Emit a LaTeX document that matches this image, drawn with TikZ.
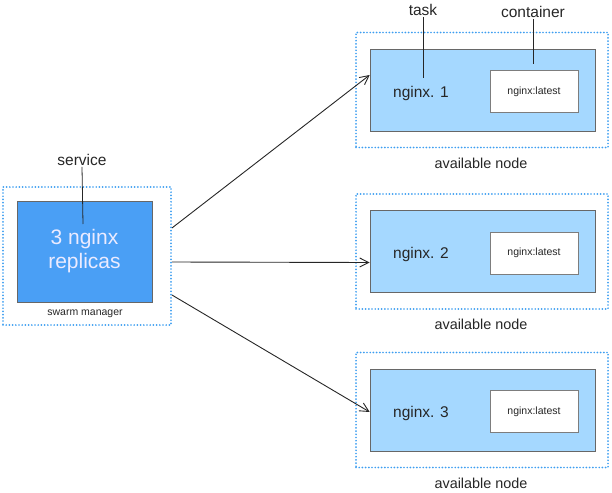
\documentclass[tikz,border=0pt]{standalone}
\usepackage{fontspec}
\setmainfont{Liberation Sans}
\usetikzlibrary{arrows.meta}
\definecolor{svcblue}{HTML}{4A9FF5}
\definecolor{taskblue}{HTML}{A5D8FF}
\definecolor{dotblue}{HTML}{3D9EF0}
\definecolor{ink}{HTML}{262626}
\begin{document}
\begin{tikzpicture}[x=1pt,y=-1pt,
  dotbox/.style={draw=dotblue,line width=1.9pt,dash pattern=on 0pt off 3.2pt,line cap=round,inner sep=0pt},
  taskbox/.style={draw=ink!70,fill=taskblue,line width=0.6pt,minimum width=225pt,minimum height=82pt,inner sep=0pt},
  ctrbox/.style={draw=ink!60,fill=white,line width=0.6pt,minimum width=88pt,minimum height=42pt,inner sep=0pt,font=\fontsize{10.5}{12}\selectfont,text=ink},
  lbl/.style={text=ink,font=\fontsize{15.5}{18}\selectfont,inner sep=1pt},
  flow/.style={draw=ink,line width=0.9pt,-{Straight Barb[length=9pt,width=9pt]}}]
\useasboundingbox (0,0) rectangle (612,492);

% swarm manager
\node[dotbox,minimum width=168pt,minimum height=138pt] (mgr) at (87,256) {};
\node[draw=ink!70,fill=svcblue,line width=0.6pt,minimum width=135pt,minimum height=101pt,
  text=blue!8,align=center,font=\fontsize{21}{24}\selectfont] (svc) at (84.5,251.5) {3 nginx\\replicas};
\node[text=ink,font=\fontsize{10.5}{12}\selectfont] (mgrlbl) at (85,314) {swarm manager};
\node[lbl] (svclbl) at (82,160) {service};
\coordinate (svcpt) at (83,224);
\draw[ink,line width=0.8pt] (svclbl.south) -- (svcpt);

% available nodes
\foreach \i/\y in {1/90,2/251.5,3/410}{
  \node[dotbox,minimum width=252pt,minimum height=115pt] (host\i) at (482,\y) {};
  \node[taskbox] (task\i) at (482.5,\y) {};
  \node[ctrbox] (ctr\i) at (534,\y+1.5) {nginx:latest};
  \node[lbl] (name\i) at (421,\y+3) {nginx. \i};
  \node[text=ink,font=\fontsize{14.4}{17}\selectfont] (avail\i) at (481,\y+73) {available node};
}

\node[lbl] (tasklbl) at (423,10) {task};
\node[lbl] (ctrlbl) at (533,12) {container};
\coordinate (taskpt) at (423,78);
\coordinate (ctrpt) at (533,64);
\draw[ink,line width=0.8pt] (tasklbl.south) -- (taskpt);
\draw[ink,line width=0.8pt] (ctrlbl.south) -- (ctrpt);

% replicas
\draw[flow] ([yshift=28pt]mgr.east) -- ([yshift=15pt]task1.west);
\draw[flow] ([yshift=-6pt]mgr.east) -- ([yshift=-11pt]task2.west);
\draw[flow] ([yshift=-39pt]mgr.east) -- ([yshift=-2pt]task3.west);
\end{tikzpicture}
\end{document}
